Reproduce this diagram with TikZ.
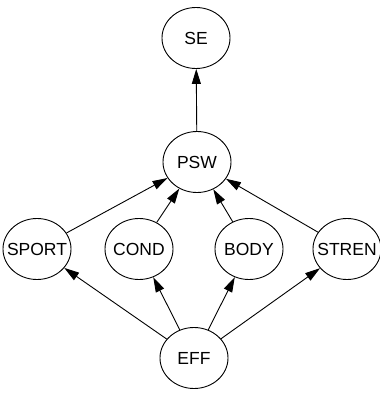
\documentclass[tikz,border=0pt]{standalone}
\usepackage{fontspec}
\setmainfont{Liberation Sans}
\usetikzlibrary{shapes.geometric,arrows.meta}
\begin{document}
\begin{tikzpicture}[x=1pt,y=-1pt,
  var/.style={draw,ellipse,line width=0.9pt,minimum width=68pt,minimum height=61pt,inner xsep=-20pt,inner ysep=-6pt,font=\fontsize{17.5}{17.5}\selectfont},
  link/.style={line width=0.9pt,-{Triangle[length=15pt,width=9pt]}}]
\useasboundingbox (0,0) rectangle (380,394);
\node[var] (SE) at (196,38) {SE};
\node[var] (PSW) at (197,162) {PSW};
\node[var] (SPORT) at (37,249) {SPORT};
\node[var] (COND) at (139,249) {COND};
\node[var] (BODY) at (249,249) {BODY};
\node[var] (STREN) at (347,249) {STREN};
\node[var] (EFF) at (194,358) {EFF};
\draw[link] (PSW) -- (SE);
\foreach \n in {SPORT,COND,BODY,STREN}{
  \draw[link] (\n) -- (PSW);
  \draw[link] (EFF) -- (\n);
}
\end{tikzpicture}
\end{document}
